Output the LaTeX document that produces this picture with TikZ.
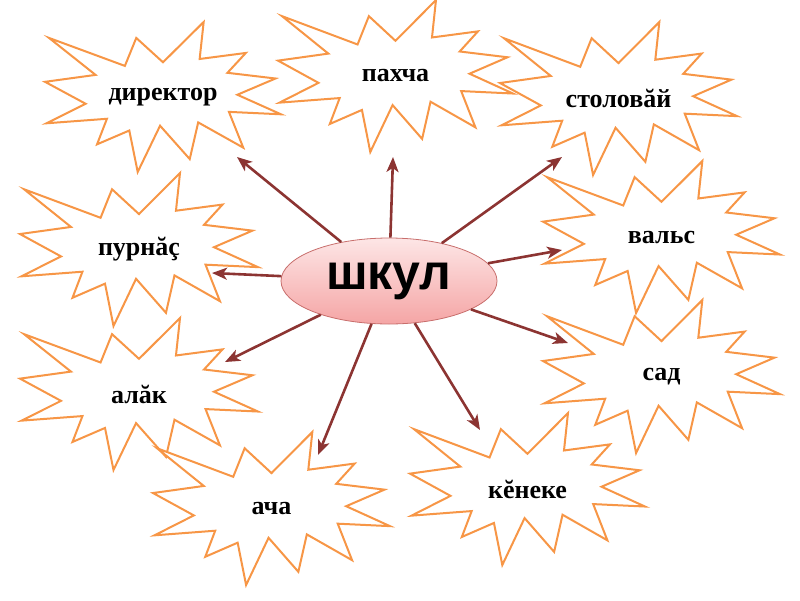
\documentclass[tikz,border=0pt]{standalone}
\usepackage{fontspec}
\setmainfont{Liberation Serif}
\newfontfamily\shkulfont{Liberation Sans}
\usetikzlibrary{arrows.meta,shapes.geometric}
\definecolor{burstorange}{RGB}{247,150,70}
\definecolor{arrowred}{RGB}{140,52,50}
\definecolor{pinktop}{RGB}{253,230,230}
\definecolor{pinkbot}{RGB}{245,165,165}
\definecolor{pinkborder}{RGB}{200,110,108}
\tikzset{
  burstline/.style={draw=burstorange, fill=white, line width=2pt, line join=miter},
  bursttext/.style={font=\bfseries\fontsize{26}{30}\selectfont, inner sep=0pt},
  hub/.style={ellipse, minimum width=216pt, minimum height=86pt, inner sep=0pt,
    draw=pinkborder, line width=0.8pt, top color=pinktop, bottom color=pinkbot,
    font=\shkulfont\bfseries\fontsize{50}{56}\selectfont},
  ray/.style={draw=arrowred, line width=2.6pt,
    -{Stealth[length=15pt,width=12pt,inset=4pt]}}
}
\newcommand\burst[6]{%
  \draw[burstline, shift={(#2,#3)}, x=#4pt, y=-#5pt]
    (0.5,0.2685) -- (0.6723,0) -- (0.6553,0.2465) -- (0.8509,0.2063) --
    (0.7732,0.3387) -- (0.9767,0.3767) -- (0.8151,0.4850) -- (1,0.6153) --
    (0.7795,0.5992) -- (0.8400,0.8377) -- (0.6491,0.6693) -- (0.6133,0.9137) --
    (0.4876,0.6915) -- (0.3928,1) -- (0.3572,0.7233) -- (0.2205,0.8156) --
    (0.2624,0.6452) -- (0.00625,0.6753) -- (0.1723,0.5451) -- (0,0.3988) --
    (0.2142,0.3526) -- (0.0171,0.1063) -- (0.3385,0.2926) -- (0.3867,0.1063) -- cycle;
  \node[bursttext] (#1) at ({#2+#4/2},{#3+#5/2}) {#6};
}
\begin{document}
\begin{tikzpicture}[x=1pt,y=-1pt]
\useasboundingbox (0,0) rectangle (800,600);
\burst{direktor}{45}{22}{236}{150}{директор}
\burst{pakhcha}{278}{0}{235}{152}{пахча}
\burst{stolovay}{500}{22}{237}{153}{столовăй}
\burst{vals}{543}{161}{237}{152}{вальс}
\burst{sad}{543}{300}{237}{153}{сад}
\burst{purnas}{20}{173}{238}{153}{пурнăç}
\burst{alak}{20}{318}{238}{152}{алăк}
\burst{acha}{153}{432}{237}{153}{ача}
\burst{keneke}{410}{413}{235}{152}{кĕнеке}

\coordinate (t1) at (237,157);
\coordinate (t2) at (393,157);
\coordinate (t3) at (562,157);
\coordinate (t4) at (562,250);
\coordinate (t5) at (568,343);
\coordinate (t6) at (480,430);
\coordinate (t7) at (318,455);
\coordinate (t8) at (225,362);
\coordinate (t9) at (212,273);

\node[hub] (shkul) at (389,281) {шкул};

\foreach \t in {t1,t2,t3,t4,t5,t6,t7,t8,t9}
  \draw[ray] (shkul) -- (\t);
\end{tikzpicture}
\end{document}
